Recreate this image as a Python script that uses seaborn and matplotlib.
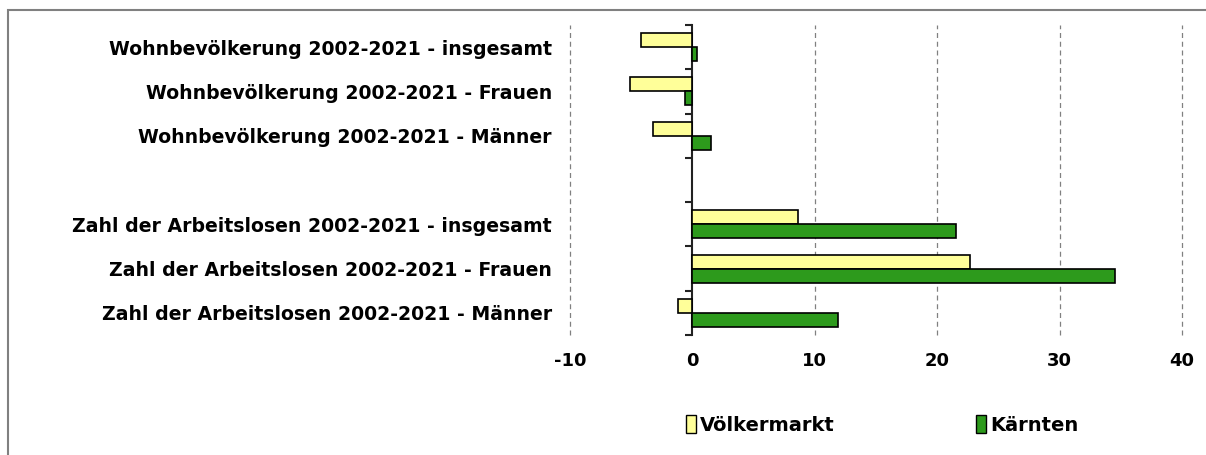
import matplotlib.pyplot as plt
import pandas as pd
import seaborn as sns
from matplotlib.patches import Rectangle

# Daten (Veränderung in %)
kategorien = [
    "Wohnbevölkerung 2002-2021 - insgesamt",
    "Wohnbevölkerung 2002-2021 - Frauen",
    "Wohnbevölkerung 2002-2021 - Männer",
    "Zahl der Arbeitslosen 2002-2021 - insgesamt",
    "Zahl der Arbeitslosen 2002-2021 - Frauen",
    "Zahl der Arbeitslosen 2002-2021 - Männer",
]
voelkermarkt = [-4.2, -5.1, -3.2, 8.6, 22.7, -1.2]
kaernten = [0.4, -0.6, 1.5, 21.5, 34.5, 11.9]
regionen = ["Völkermarkt", "Kärnten"]
farben = ["#ffff99", "#2d9a1c"]

# leere Zeile zwischen den beiden Blöcken
reihenfolge = kategorien[:3] + [" "] + kategorien[3:]

df = pd.DataFrame({
    "kategorie": kategorien * 2,
    "wert": voelkermarkt + kaernten,
    "region": [regionen[0]] * len(kategorien) + [regionen[1]] * len(kategorien),
})

sns.set_style("white")
plt.rcParams["font.family"] = ["DejaVu Sans"]
plt.rcParams["axes.unicode_minus"] = False
plt.rcParams["text.color"] = "black"
plt.rcParams["xtick.color"] = "black"
plt.rcParams["ytick.color"] = "black"

fig = plt.figure(figsize=(12.06, 4.55), dpi=100)
ax = fig.add_axes([570 / 1206, 1 - 335 / 455, 612 / 1206, 310 / 455])

sns.barplot(
    data=df, x="wert", y="kategorie", hue="region",
    order=reihenfolge, hue_order=regionen, palette=farben, saturation=1,
    width=0.63, edgecolor="black", linewidth=1.2, orient="h",
    legend=False, ax=ax,
)

ax.set_xlim(-10, 40)
ax.set_ylim(6.5, -0.5)
ax.set_xticks([-10, 0, 10, 20, 30, 40])
ax.set_xlabel("")
ax.set_ylabel("")

for x in [-10, 10, 20, 30, 40]:
    ax.axvline(x, color="#808080", linestyle=(0, (4, 3)), linewidth=0.9,
               zorder=0, clip_on=False)

for s in ax.spines.values():
    s.set_visible(False)

ax.tick_params(axis="x", length=0, pad=12, labelsize=13)
ax.tick_params(axis="y", length=0, pad=13, labelsize=13.6)
for lbl in ax.get_xticklabels() + ax.get_yticklabels():
    lbl.set_fontweight("bold")

# Kategorienachse bei x = 0 mit Teilstrichen zwischen den Gruppen
sec = ax.secondary_yaxis(0.2)
sec.set_yticks([i - 0.5 for i in range(len(reihenfolge) + 1)])
sec.set_yticklabels([])
sec.tick_params(axis="y", direction="out", length=5, width=1.5, color="#222222")
sec.spines["left"].set_linewidth(1.5)
sec.spines["left"].set_color("#222222")

# Legende unten
handles = [Rectangle((0, 0), 1, 1, facecolor=c, edgecolor="black", linewidth=1)
           for c in farben]
fig.legend(
    handles, regionen, loc="center", bbox_to_anchor=(882 / 1206, 1 - 425 / 455),
    ncol=2, frameon=False, handlelength=0.5, handleheight=1.0,
    handletextpad=0.2, columnspacing=7.3, prop={"weight": "bold", "size": 14},
)

# Rahmen des Diagrammbereichs
fig.patches.append(Rectangle(
    (8 / 1206, -0.1), 1.2, 1.1 - 10 / 455, transform=fig.transFigure,
    fill=False, edgecolor="#808080", linewidth=1.5,
))

fig.savefig("out.png", dpi=100)
